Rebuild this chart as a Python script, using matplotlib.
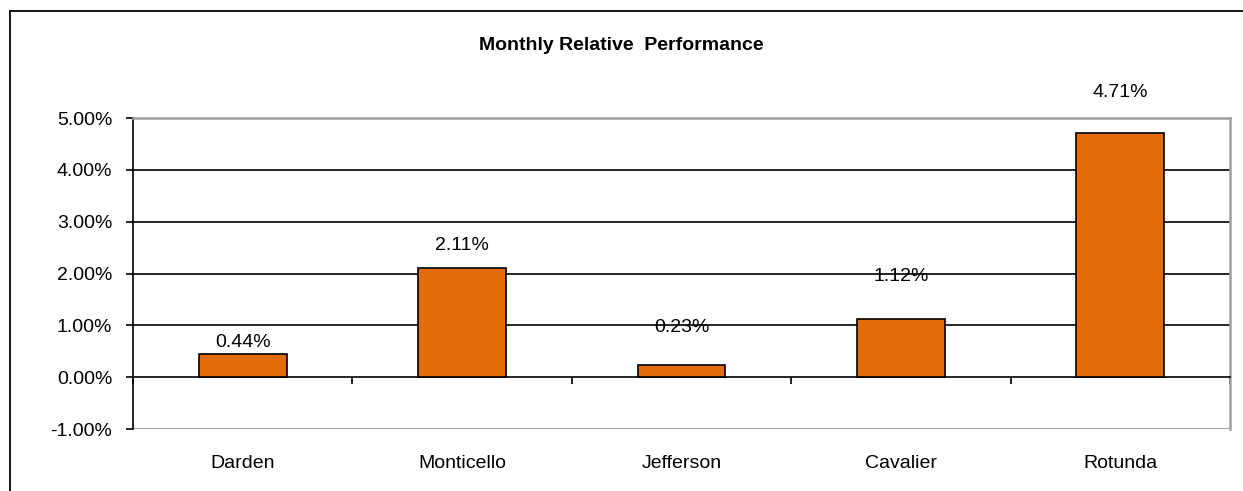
import numpy as np
import matplotlib.pyplot as plt
from matplotlib.lines import Line2D
from matplotlib.ticker import FuncFormatter

plt.rcParams['font.family'] = ['Liberation Sans', 'DejaVu Sans']

funds = ['Darden', 'Monticello', 'Jefferson', 'Cavalier', 'Rotunda']
perf = [0.44, 2.11, 0.23, 1.12, 4.71]  # monthly relative performance, %
label_gap = [12, 22, 38, 43, 41]  # how far above the bar Excel put each label (px)

fig = plt.figure(figsize=(12.43, 4.91), dpi=100)
ax = fig.add_axes([133 / 1243, 62 / 491, 1097 / 1243, 311 / 491])

x = np.arange(len(funds))
ax.bar(x, perf, width=0.4, color='#E36C0A', edgecolor='black', linewidth=1.2, zorder=3)

for xi, v, g in zip(x, perf, label_gap):
    ax.annotate(f'{v:.2f}%', (xi, v), xytext=(0, g * 0.72), textcoords='offset points',
                ha='center', va='center', fontsize=14, zorder=4)

ax.set_xlim(-0.5, len(funds) - 0.5)
ax.set_ylim(-1, 5)
ax.set_yticks(np.arange(-1, 6, 1))
ax.yaxis.set_major_formatter(FuncFormatter(lambda v, p: f'{v:.2f}%'))
for yv in range(1, 5):
    ax.axhline(yv, color='black', lw=1.2, zorder=1)

# category axis sits on the zero line, ticks between categories
ax.spines['bottom'].set_position(('data', 0))
ax.spines['bottom'].set_linewidth(1.2)
ax.spines['left'].set_linewidth(1.2)
for s in ['top', 'right']:
    ax.spines[s].set_color('#A0A0A0')
    ax.spines[s].set_linewidth(1.8)
ax.axhline(-1, color='#A0A0A0', lw=2.2, zorder=2)

ax.set_xticks(x)
ax.set_xticklabels(funds)
ax.set_xticks(np.arange(-0.5, len(funds), 1), minor=True)
ax.tick_params(axis='x', which='major', length=0, pad=56, labelsize=14)
ax.tick_params(axis='x', which='minor', length=5, width=1.2, direction='out')
ax.tick_params(axis='y', length=5, width=1.2, direction='out', pad=10, labelsize=14)

fig.text(621 / 1243, 1 - 46 / 491, 'Monthly Relative  Performance', ha='center', va='center',
         fontsize=14, fontweight='bold')

# chart-area border, only top and left edges fall inside the picture
fig.add_artist(Line2D([10 / 1243, 10 / 1243], [0, 1 - 11 / 491], color='black', lw=1.3))
fig.add_artist(Line2D([10 / 1243, 1], [1 - 11 / 491, 1 - 11 / 491], color='black', lw=1.3))

fig.savefig('out.png', dpi=100)
